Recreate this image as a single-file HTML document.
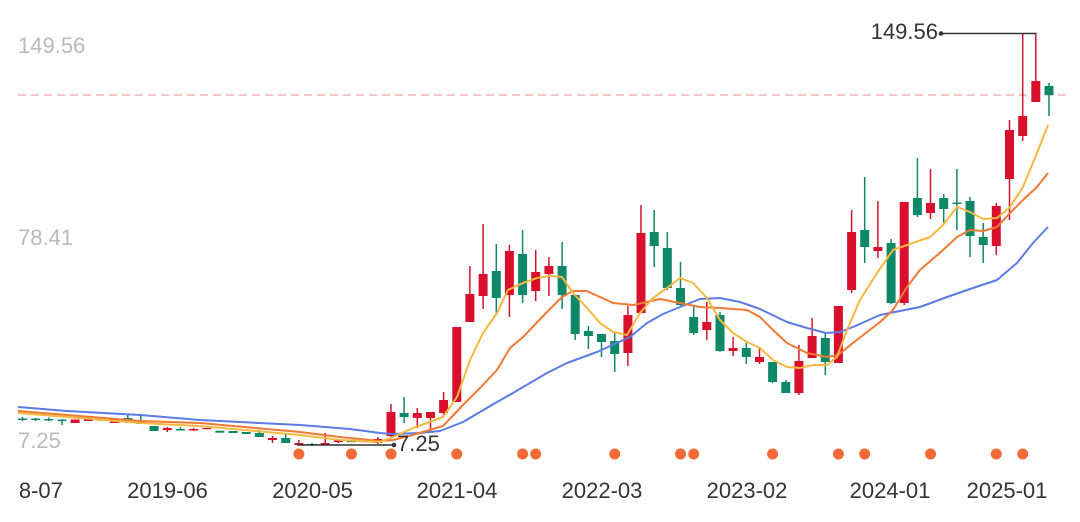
<!DOCTYPE html>
<html>
<head>
<meta charset="utf-8">
<style>
  html, body { margin: 0; padding: 0; background: #ffffff; }
  body { width: 1080px; height: 522px; overflow: hidden; }
  svg { display: block; }
  text { font-family: "Liberation Sans", Arial, sans-serif; }
</style>
</head>
<body>
<svg width="1080" height="522" viewBox="0 0 1080 522" xmlns="http://www.w3.org/2000/svg">
  <defs>
    <clipPath id="xclip"><rect x="19" y="460" width="1061" height="62"/></clipPath>
  </defs>
  <rect x="0" y="0" width="1080" height="522" fill="#ffffff"/>

  <!-- y-axis labels -->
  <text x="18" y="53" font-size="22" fill="#b9b9c1">149.56</text>
  <text x="18" y="245" font-size="22" fill="#b9b9c1">78.41</text>
  <text x="18" y="448" font-size="22" fill="#b9b9c1">7.25</text>

  <!-- dashed current price line -->
  <line x1="18" y1="95" x2="1070" y2="95" stroke="#f2a3a3" stroke-width="1.3" stroke-dasharray="8 5"/>

  <!-- candles: green -->
  <g stroke="#0f8868" stroke-width="1.5" fill="#0f8868">
    <line x1="22.5" y1="417" x2="22.5" y2="421"/><rect x="18" y="418.5" width="9" height="1.5" stroke="none"/>
    <line x1="35.7" y1="418" x2="35.7" y2="421"/><rect x="31.2" y="418.5" width="9" height="1.5" stroke="none"/>
    <line x1="48.8" y1="417.5" x2="48.8" y2="421"/><rect x="44.3" y="419" width="9" height="1.5" stroke="none"/>
    <line x1="62" y1="419" x2="62" y2="425"/><rect x="57.5" y="419.5" width="9" height="1.5" stroke="none"/>
    <line x1="127.8" y1="415" x2="127.8" y2="420"/><rect x="123.3" y="418" width="9" height="2" stroke="none"/>
    <line x1="140.9" y1="416" x2="140.9" y2="424"/><rect x="136.4" y="421" width="9" height="3" stroke="none"/>
    <rect x="149.6" y="426" width="9" height="5" stroke="none"/>
    <line x1="180.4" y1="427" x2="180.4" y2="430"/><rect x="175.9" y="429" width="9" height="1.5" stroke="none"/>
    <rect x="215.4" y="430.7" width="9" height="2" stroke="none"/>
    <rect x="228.6" y="431" width="9" height="2" stroke="none"/>
    <rect x="241.7" y="432" width="9" height="2" stroke="none"/>
    <line x1="259.4" y1="430" x2="259.4" y2="437"/><rect x="254.9" y="433" width="9" height="4" stroke="none"/>
    <line x1="285.7" y1="433" x2="285.7" y2="443"/><rect x="281.2" y="438" width="9" height="5" stroke="none"/>
    <line x1="312" y1="443" x2="312" y2="446"/><rect x="307.5" y="444" width="9" height="1.5" stroke="none"/>
    <rect x="347" y="441" width="9" height="1.2" stroke="none"/>
    <line x1="404.1" y1="397" x2="404.1" y2="423"/><rect x="399.6" y="413" width="9" height="4" stroke="none"/>
    <line x1="496.3" y1="244" x2="496.3" y2="314"/><rect x="491.8" y="271" width="9" height="27" stroke="none"/>
    <line x1="522.6" y1="230" x2="522.6" y2="303"/><rect x="518.1" y="254" width="9" height="41" stroke="none"/>
    <line x1="562.1" y1="242" x2="562.1" y2="309"/><rect x="557.6" y="266" width="9" height="29" stroke="none"/>
    <line x1="575.2" y1="295" x2="575.2" y2="340"/><rect x="570.7" y="295" width="9" height="39" stroke="none"/>
    <line x1="588.4" y1="326" x2="588.4" y2="349"/><rect x="583.9" y="331" width="9" height="5" stroke="none"/>
    <line x1="601.5" y1="334" x2="601.5" y2="357"/><rect x="597" y="334" width="9" height="8" stroke="none"/>
    <line x1="614.7" y1="333" x2="614.7" y2="372"/><rect x="610.2" y="341" width="9" height="13" stroke="none"/>
    <line x1="654.2" y1="210" x2="654.2" y2="267"/><rect x="649.7" y="232" width="9" height="14" stroke="none"/>
    <line x1="667.3" y1="232" x2="667.3" y2="290"/><rect x="662.8" y="248" width="9" height="40" stroke="none"/>
    <line x1="680.5" y1="262" x2="680.5" y2="306"/><rect x="676" y="288" width="9" height="17" stroke="none"/>
    <line x1="693.7" y1="306" x2="693.7" y2="335"/><rect x="689.2" y="317" width="9" height="16" stroke="none"/>
    <line x1="720" y1="312" x2="720" y2="352"/><rect x="715.5" y="315" width="9" height="36" stroke="none"/>
    <line x1="746.3" y1="343" x2="746.3" y2="364"/><rect x="741.8" y="348" width="9" height="9" stroke="none"/>
    <line x1="772.6" y1="362" x2="772.6" y2="383"/><rect x="768.1" y="362" width="9" height="20" stroke="none"/>
    <line x1="785.8" y1="380" x2="785.8" y2="393"/><rect x="781.3" y="382" width="9" height="11" stroke="none"/>
    <line x1="825.3" y1="333" x2="825.3" y2="375"/><rect x="820.8" y="338" width="9" height="24" stroke="none"/>
    <line x1="864.7" y1="177" x2="864.7" y2="263"/><rect x="860.2" y="230" width="9" height="17" stroke="none"/>
    <line x1="891.1" y1="239" x2="891.1" y2="304"/><rect x="886.6" y="243" width="9" height="60" stroke="none"/>
    <line x1="917.4" y1="158" x2="917.4" y2="217"/><rect x="912.9" y="198" width="9" height="17" stroke="none"/>
    <line x1="943.7" y1="194" x2="943.7" y2="223"/><rect x="939.2" y="198" width="9" height="11" stroke="none"/>
    <line x1="956.9" y1="169" x2="956.9" y2="230"/><rect x="952.4" y="202.5" width="9" height="1.5" stroke="none"/>
    <line x1="970" y1="197" x2="970" y2="257"/><rect x="965.5" y="201" width="9" height="35" stroke="none"/>
    <line x1="983.2" y1="223" x2="983.2" y2="263"/><rect x="978.7" y="237" width="9" height="8" stroke="none"/>
    <line x1="1049" y1="83" x2="1049" y2="116"/><rect x="1044.5" y="86" width="9" height="9" stroke="none"/>
  </g>

  <!-- candles: red -->
  <g stroke="#d8102c" stroke-width="1.5" fill="#d8102c">
    <rect x="70.6" y="419.5" width="9" height="3.5" stroke="none"/>
    <rect x="83.8" y="419" width="9" height="2" stroke="none"/>
    <rect x="97" y="419.5" width="9" height="1.2" stroke="none"/>
    <rect x="110.1" y="419" width="9" height="4" stroke="none"/>
    <line x1="167.3" y1="427" x2="167.3" y2="432"/><rect x="162.8" y="428" width="9" height="2" stroke="none"/>
    <line x1="193.6" y1="428" x2="193.6" y2="431"/><rect x="189.1" y="429" width="9" height="1.5" stroke="none"/>
    <rect x="202.2" y="428" width="9" height="1.2" stroke="none"/>
    <line x1="272.5" y1="436" x2="272.5" y2="443"/><rect x="268" y="438" width="9" height="2" stroke="none"/>
    <line x1="298.9" y1="440" x2="298.9" y2="445.5"/><rect x="294.4" y="443" width="9" height="2" stroke="none"/>
    <line x1="325.2" y1="433" x2="325.2" y2="445"/><rect x="320.7" y="443" width="9" height="2" stroke="none"/>
    <line x1="338.3" y1="439" x2="338.3" y2="443"/><rect x="333.8" y="440.5" width="9" height="1.5" stroke="none"/>
    <rect x="360.2" y="441" width="9" height="1.2" stroke="none"/>
    <line x1="377.8" y1="437" x2="377.8" y2="444"/><rect x="373.3" y="439" width="9" height="4" stroke="none"/>
    <line x1="391" y1="404" x2="391" y2="437"/><rect x="386.5" y="412" width="9" height="24" stroke="none"/>
    <line x1="417.3" y1="408" x2="417.3" y2="428"/><rect x="412.8" y="413" width="9" height="5" stroke="none"/>
    <line x1="430.5" y1="412" x2="430.5" y2="431"/><rect x="426" y="412" width="9" height="6" stroke="none"/>
    <line x1="443.6" y1="392" x2="443.6" y2="417"/><rect x="439.1" y="400" width="9" height="13" stroke="none"/>
    <rect x="452.3" y="327" width="9" height="75" stroke="none"/>
    <line x1="469.9" y1="266" x2="469.9" y2="322"/><rect x="465.4" y="294" width="9" height="28" stroke="none"/>
    <line x1="483.1" y1="224" x2="483.1" y2="309"/><rect x="478.6" y="274" width="9" height="22" stroke="none"/>
    <line x1="509.4" y1="245" x2="509.4" y2="317"/><rect x="504.9" y="251" width="9" height="44" stroke="none"/>
    <line x1="535.7" y1="250" x2="535.7" y2="301"/><rect x="531.2" y="272" width="9" height="19" stroke="none"/>
    <line x1="548.9" y1="257" x2="548.9" y2="296"/><rect x="544.4" y="266" width="9" height="8" stroke="none"/>
    <line x1="627.9" y1="306" x2="627.9" y2="366"/><rect x="623.4" y="315" width="9" height="38" stroke="none"/>
    <line x1="641" y1="205" x2="641" y2="313"/><rect x="636.5" y="233" width="9" height="80" stroke="none"/>
    <line x1="706.8" y1="302" x2="706.8" y2="340"/><rect x="702.3" y="322" width="9" height="8" stroke="none"/>
    <line x1="733.1" y1="337" x2="733.1" y2="356"/><rect x="728.6" y="348" width="9" height="3" stroke="none"/>
    <line x1="759.5" y1="348" x2="759.5" y2="364"/><rect x="755" y="357" width="9" height="5" stroke="none"/>
    <line x1="798.9" y1="345" x2="798.9" y2="395"/><rect x="794.4" y="361" width="9" height="32" stroke="none"/>
    <line x1="812.1" y1="318" x2="812.1" y2="358"/><rect x="807.6" y="336" width="9" height="22" stroke="none"/>
    <rect x="833.9" y="306" width="9" height="57" stroke="none"/>
    <line x1="851.6" y1="210" x2="851.6" y2="293"/><rect x="847.1" y="232" width="9" height="58" stroke="none"/>
    <line x1="877.9" y1="201" x2="877.9" y2="258"/><rect x="873.4" y="247" width="9" height="4" stroke="none"/>
    <line x1="904.2" y1="202" x2="904.2" y2="305"/><rect x="899.7" y="202" width="9" height="101" stroke="none"/>
    <line x1="930.5" y1="169" x2="930.5" y2="219"/><rect x="926" y="203" width="9" height="10" stroke="none"/>
    <line x1="996.3" y1="203" x2="996.3" y2="255"/><rect x="991.8" y="206" width="9" height="40" stroke="none"/>
    <line x1="1009.5" y1="120" x2="1009.5" y2="220"/><rect x="1005" y="130" width="9" height="49" stroke="none"/>
    <line x1="1022.7" y1="33.5" x2="1022.7" y2="141"/><rect x="1018.2" y="116" width="9" height="20" stroke="none"/>
    <line x1="1035.8" y1="33.5" x2="1035.8" y2="102"/><rect x="1031.3" y="81" width="9" height="21" stroke="none"/>
  </g>

  <!-- moving averages -->
  <polyline fill="none" stroke="#5b7be6" stroke-width="2" stroke-linejoin="round"
    points="18,407 67,411 140,415 200,420 300,425 350,429 380,433 393,434 420,433 440,431 463,422 480,412 497,402 513,393 547,373 567,363 597,352 630,337 647,323 663,314 680,307 700,299 720,298 740,302 760,309 787,322 807,328 826,333 840,332 853,327 880,315 900,311 920,307 947,297 973,288 997,280 1017,263 1033,243 1048,227"/>
  <polyline fill="none" stroke="#f07a35" stroke-width="2" stroke-linejoin="round"
    points="18,411 67,415 140,421 200,423 300,432 340,437 380,441 393,440 413,435 443,426 463,405 480,388 497,370 510,348 523,337 547,312 562,297 573,291 587,291 613,303 633,305 647,302 660,299 680,303 700,307 720,308 747,310 760,317 773,330 787,343 807,353 827,357 838,355 853,343 880,322 893,310 907,287 920,270 943,250 957,237 970,230 983,231 997,227 1010,213 1023,200 1037,187 1048,173"/>
  <polyline fill="none" stroke="#f5b940" stroke-width="2" stroke-linejoin="round"
    points="18,413 67,417 140,423 200,426 300,435 340,440 380,442 393,437 413,428 443,417 457,397 470,360 483,333 497,313 508,290 523,283 537,278 550,276 562,277 573,293 587,308 600,323 613,332 627,335 640,313 653,298 667,288 680,278 693,283 707,298 720,320 733,333 747,342 760,348 773,360 787,367 800,368 813,365 827,365 837,357 847,330 860,300 877,273 893,250 907,245 930,237 943,225 957,207 970,212 983,219 997,218 1010,207 1023,187 1037,153 1048,125"/>

  <!-- max marker -->
  <line x1="941" y1="33.5" x2="1036.5" y2="33.5" stroke="#333338" stroke-width="1.5"/>
  <circle cx="941" cy="33.5" r="2.3" fill="#333338"/>
  <text x="938" y="39" font-size="22" fill="#333338" text-anchor="end">149.56</text>

  <!-- min marker -->
  <line x1="297" y1="445" x2="394" y2="445" stroke="#333338" stroke-width="1.5"/>
  <circle cx="394" cy="445" r="2.3" fill="#333338"/>
  <text x="397" y="451" font-size="22" fill="#333338">7.25</text>

  <!-- signal dots -->
  <g fill="#f26a37">
    <circle cx="298.9" cy="454" r="5.5"/>
    <circle cx="351.5" cy="454" r="5.5"/>
    <circle cx="391" cy="454" r="5.5"/>
    <circle cx="456.8" cy="454" r="5.5"/>
    <circle cx="522.6" cy="454" r="5.5"/>
    <circle cx="535.7" cy="454" r="5.5"/>
    <circle cx="614.7" cy="454" r="5.5"/>
    <circle cx="680.5" cy="454" r="5.5"/>
    <circle cx="693.7" cy="454" r="5.5"/>
    <circle cx="772.6" cy="454" r="5.5"/>
    <circle cx="838.4" cy="454" r="5.5"/>
    <circle cx="864.7" cy="454" r="5.5"/>
    <circle cx="930.5" cy="454" r="5.5"/>
    <circle cx="996.3" cy="454" r="5.5"/>
    <circle cx="1022.7" cy="454" r="5.5"/>
  </g>

  <!-- x-axis labels -->
  <g font-size="22" fill="#333338" text-anchor="middle" clip-path="url(#xclip)">
    <text x="22.5" y="498">2018-07</text>
    <text x="167.5" y="498">2019-06</text>
    <text x="312.5" y="498">2020-05</text>
    <text x="457" y="498">2021-04</text>
    <text x="602" y="498">2022-03</text>
    <text x="747" y="498">2023-02</text>
    <text x="890" y="498">2024-01</text>
    <text x="1007" y="498">2025-01</text>
  </g>
</svg>
</body>
</html>
